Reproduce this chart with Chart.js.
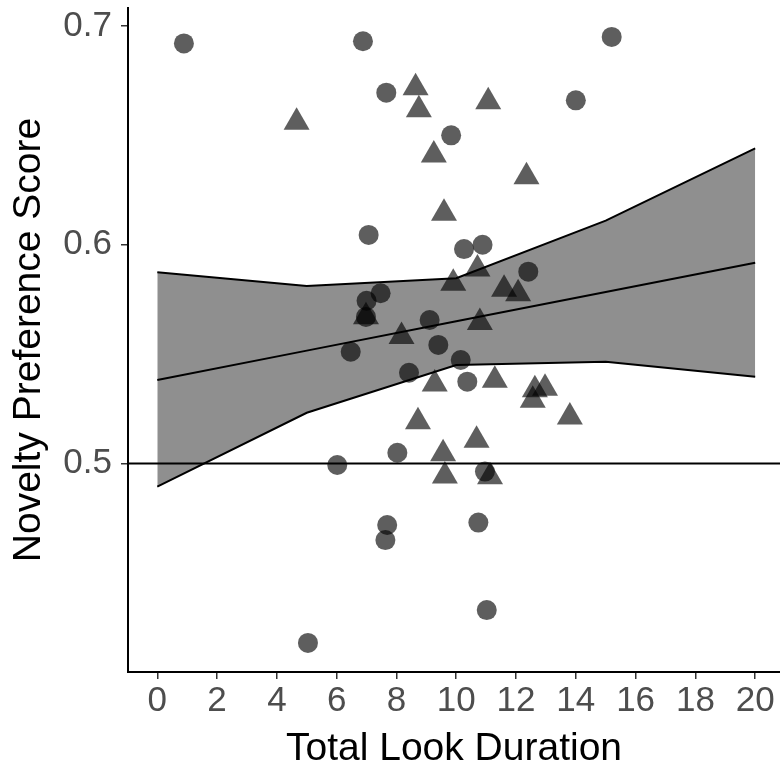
<!DOCTYPE html>
<html>
<head>
<meta charset="utf-8">
<script src="https://cdn.jsdelivr.net/npm/chart.js@4/dist/chart.umd.min.js"></script>
<style>
html,body{margin:0;padding:0;background:#fff;}
#wrap{width:780px;height:765px;}
</style>
</head>
<body>
<div id="wrap"><canvas id="c" width="780" height="765"></canvas></div>
<script>
// ---- data ----
const circleX = [0.89, 6.88, 7.66, 15.2, 14.0, 9.83, 7.07, 10.26, 10.88, 12.41, 7.47, 7.0, 6.98, 9.11, 9.40, 6.47, 10.15, 8.42, 10.37, 8.03, 6.02, 10.96, 10.74, 7.69, 7.63, 11.02, 5.04];
const circleY = [0.692, 0.693, 0.6695, 0.695, 0.666, 0.650, 0.6045, 0.598, 0.600, 0.5877, 0.5778, 0.5744, 0.567, 0.5656, 0.5542, 0.5511, 0.5473, 0.5415, 0.5374, 0.5049, 0.4993, 0.4963, 0.473, 0.4719, 0.465, 0.433, 0.418];
const triangleX = [8.64, 8.75, 4.66, 11.07, 9.25, 12.35, 9.59, 10.71, 9.90, 11.60, 12.07, 6.98, 10.79, 8.17, 11.29, 9.28, 12.63, 12.97, 12.56, 13.8, 8.72, 10.68, 9.56, 9.62, 11.13];
const triangleY = [0.6717, 0.6617, 0.656, 0.6653, 0.641, 0.6311, 0.6144, 0.5889, 0.5824, 0.5796, 0.5776, 0.5671, 0.5645, 0.558, 0.538, 0.5363, 0.5337, 0.5344, 0.5289, 0.5213, 0.5191, 0.5106, 0.5045, 0.4943, 0.494];
const fitX = [0, 5, 10, 15, 20];
const fitY = [0.5382, 0.5516, 0.565, 0.5784, 0.5918];
const fitUpper = [0.5874, 0.5811, 0.5847, 0.611, 0.644];
const fitLower = [0.4894, 0.5232, 0.545, 0.5465, 0.5397];
const refLineY = 0.5;
const xTicks = [0, 2, 4, 6, 8, 10, 12, 14, 16, 18, 20];
const yTicks = [0.5, 0.6, 0.7];
const yTickLabels = ["0.5", "0.6", "0.7"];
const xTitle = "Total Look Duration";
const yTitle = "Novelty Preference Score";
const xLimits = [-0.98, 20.83];
const yLimits = [0.4047, 0.7082];

// ---- build datasets ----
const zip = (xs, ys) => xs.map((x, i) => ({x: x, y: ys[i]}));
const pointFill = 'rgba(0,0,0,0.63)';
const FONT = '"Liberation Sans", Arial, Helvetica, sans-serif';

const data = {
  datasets: [
    {type:'scatter', data: zip(circleX, circleY), pointStyle:'circle', pointRadius:10, pointHoverRadius:10,
     backgroundColor: pointFill, borderWidth:0, order:0},
    {type:'scatter', data: zip(triangleX, triangleY), pointStyle:'triangle', pointRadius:15, pointHoverRadius:15,
     backgroundColor: pointFill, borderWidth:0, order:0},
    {type:'line', data: zip(fitX, fitLower), borderColor:'#000', borderWidth:2, pointRadius:0, fill:false, order:2},
    {type:'line', data: zip(fitX, fitUpper), borderColor:'#000', borderWidth:2, pointRadius:0,
     fill:{target:2}, backgroundColor:'#8f8f8f', order:2},
    {type:'line', data: zip(fitX, fitY), borderColor:'#000', borderWidth:2, pointRadius:0, fill:false, order:1},
    {type:'line', data: [{x:xLimits[0], y:refLineY}, {x:xLimits[1], y:refLineY}], borderColor:'#000', borderWidth:2, pointRadius:0, fill:false, order:1}
  ]
};

new Chart(document.getElementById('c'), {
  type: 'scatter',
  data: data,
  options: {
    responsive: false,
    animation: false,
    devicePixelRatio: 1,
    layout: {autoPadding: false, padding: {top: 8, right: 0, bottom: 0, left: 0}},
    plugins: {legend: {display:false}, tooltip: {enabled:false}},
    elements: {line: {tension: 0}},
    scales: {
      x: {
        type: 'linear', min: xLimits[0], max: xLimits[1],
        afterBuildTicks: s => { s.ticks = xTicks.map(v => ({value: v})); },
        afterFit: s => { s.height = 93; s.paddingLeft = 0; s.paddingRight = 0; s.paddingTop = 0; s.paddingBottom = 0; },
        ticks: {color:'#4d4d4d', font:{family:FONT, size:35}, padding:1, maxRotation:0, autoSkip:false,
                callback: v => String(v)},
        grid: {display:true, drawOnChartArea:false, drawTicks:true, tickLength:7, color:'#333', lineWidth:1.5},
        border: {display:true, color:'#000', width:2},
        title: {display:true, text:xTitle, color:'#000', font:{family:FONT, size:39, lineHeight:1}, padding:{top:0, bottom:-4}}
      },
      y: {
        type: 'linear', min: yLimits[0], max: yLimits[1],
        afterBuildTicks: s => { s.ticks = yTicks.map(v => ({value: v})); },
        afterFit: s => { s.width = 128; s.paddingLeft = 0; s.paddingRight = 0; s.paddingTop = 0; s.paddingBottom = 0; },
        ticks: {color:'#4d4d4d', font:{family:FONT, size:35}, padding:9, autoSkip:false,
                callback: (v) => { const i = yTicks.indexOf(v); return i >= 0 ? yTickLabels[i] : String(v); }},
        grid: {display:true, drawOnChartArea:false, drawTicks:true, tickLength:7, color:'#333', lineWidth:1.5},
        border: {display:true, color:'#000', width:2},
        title: {display:true, text:yTitle, color:'#000', font:{family:FONT, size:39, lineHeight:1}, padding:{top:10, bottom:0}}
      }
    }
  }
});
</script>
</body>
</html>
